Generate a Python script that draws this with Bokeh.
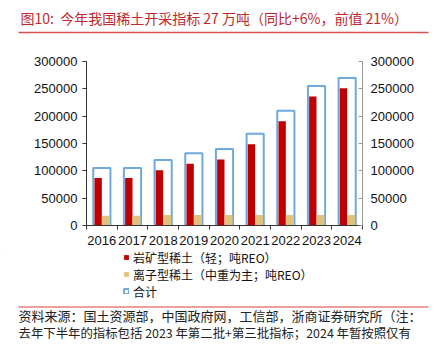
from bokeh.plotting import figure
from bokeh.models import (Range1d, LinearAxis, FixedTicker, Legend, LegendItem,
                          NumeralTickFormatter)
from bokeh.core.properties import value
from bokeh.embed import file_html
from bokeh.resources import INLINE

years = ["2016", "2017", "2018", "2019", "2020", "2021", "2022", "2023", "2024"]
rock = [87100, 87100, 100850, 112850, 120850, 148850, 190850, 235850, 250850]
ion = [17900, 17900, 19150, 19150, 19150, 19150, 19150, 19150, 19150]
total = [105000, 105000, 120000, 132000, 140000, 168000, 210000, 255000, 270000]
y_ticks = [0, 50000, 100000, 150000, 200000, 250000, 300000]
legend_labels = ["岩矿型稀土（轻；吨REO）", "离子型稀土（中重为主；吨REO）", "合计"]
title_text = "图10:\u00a0\u00a0今年我国稀土开采指标 27 万吨（同比+6%，前值 21%）"
footer_lines = ["资料来源：国土资源部，中国政府网，工信部，浙商证券研究所（注：",
                "去年下半年的指标包括 2023 年第二批+第三批指标；2024 年暂按照仅有"]

W, H = 441, 344
TOP_H = 40          # title strip height
MAIN_H = 208        # main chart canvas height
BOT_H = H - TOP_H - MAIN_H
FL, FR, FT, FB = 86, 362, 61, 225  # frame edges on the full page

RED = "#c00000"
YEL = "#dfc27d"
BLUE = "#6fa8dc"
CJK = "Noto Sans CJK SC"
font = "Liberation Sans"


def blank(h, y0):
    f = figure(width=W, height=h, output_backend="svg", toolbar_location=None,
               x_range=Range1d(0, W), y_range=Range1d(y0 + h, y0),
               min_border=0, x_axis_location=None, y_axis_location=None)
    f.outline_line_color = None
    f.xgrid.visible = False
    f.ygrid.visible = False
    return f


# ---- title strip
pt = blank(TOP_H, 0)
pt.text(x=[20], y=[17], text=[title_text], text_font=value(CJK), text_font_size="14px",
        text_color="#c0282e", text_baseline="middle", text_align="left")
pt.segment(x0=[18], y0=[32], x1=[428], y1=[32], line_color="#d65050", line_width=1.5)

# ---- main chart
p = figure(width=W, height=MAIN_H, output_backend="svg", toolbar_location=None,
           x_range=Range1d(-0.5, len(years) - 0.5), y_range=Range1d(0, 300000),
           min_border_left=FL, min_border_right=W - FR, min_border_top=FT - TOP_H,
           min_border_bottom=TOP_H + MAIN_H - FB, y_axis_location=None, x_axis_location=None)
p.outline_line_color = None
p.xgrid.visible = False
p.ygrid.visible = False

xs = list(range(len(years)))
x_rock = [x - 0.12 for x in xs]
x_ion = [x + 0.13 for x in xs]

p.vbar(x=xs, top=total, bottom=0, width=0.56, fill_color="white",
       line_color=BLUE, line_width=2)
p.vbar(x=x_rock, top=rock, width=0.24, fill_color=RED, line_color=None)
p.vbar(x=x_ion, top=ion, width=0.26, fill_color=YEL, line_color=None)

xa = LinearAxis(ticker=FixedTicker(ticks=xs, minor_ticks=[x - 0.5 for x in xs] + [len(xs) - 0.5]),
                major_label_overrides={i: y for i, y in enumerate(years)})
xa.major_tick_line_color = None
xa.minor_tick_out = 4
xa.minor_tick_in = 0
xa.minor_tick_line_color = "#333333"
xa.axis_line_color = "#333333"
xa.major_label_text_font = font
xa.major_label_text_font_size = "13px"
xa.major_label_text_color = "#111111"
xa.major_label_standoff = 4
p.add_layout(xa, "below")

for side in ("left", "right"):
    ya = LinearAxis(ticker=FixedTicker(ticks=y_ticks),
                    formatter=NumeralTickFormatter(format="0"))
    ya.minor_tick_line_color = None
    ya.major_label_text_font = font
    ya.major_label_text_font_size = "13px"
    ya.major_label_text_color = "#111111"
    if side == "left":
        ya.axis_line_color = "#333333"
        ya.major_tick_line_color = "#333333"
        ya.major_tick_out = 4
        ya.major_tick_in = 0
        ya.major_label_standoff = 5
    else:
        ya.axis_line_color = "#999999"
        ya.major_tick_line_color = "#999999"
        ya.major_tick_out = 0
        ya.major_tick_in = 4
        ya.major_label_standoff = 8
    p.add_layout(ya, side)

# ---- legend + footer strip
y0 = TOP_H + MAIN_H
pb = blank(BOT_H, y0)
g1 = pb.vbar(x=[-1000], top=[y0], bottom=[y0], width=1, fill_color=RED, line_color=None)
g2 = pb.vbar(x=[-1000], top=[y0], bottom=[y0], width=1, fill_color=YEL, line_color=None)
g3 = pb.vbar(x=[-1000], top=[y0], bottom=[y0], width=1, fill_color="white",
             line_color=BLUE, line_width=2)
row_centers = [256.5, 273.5, 290.5]
for lab, g, cy in zip(legend_labels, [g1, g2, g3], row_centers):
    lg = Legend(items=[LegendItem(label=lab, renderers=[g])],
                location=(123, H - cy - 9), orientation="vertical")
    lg.glyph_width = 6
    lg.glyph_height = 6
    lg.label_text_font = CJK
    lg.label_text_font_size = "12px"
    lg.label_text_color = "#111111"
    lg.label_height = 14
    lg.label_standoff = 4
    lg.spacing = 0
    lg.padding = 0
    lg.margin = 0
    lg.border_line_color = None
    lg.background_fill_alpha = 0
    pb.add_layout(lg, "center")

pb.segment(x0=[18], y0=[306.5], x1=[428], y1=[306.5], line_color="#e58080", line_width=1.5)
pb.text(x=[18], y=[315], text=[footer_lines[0]], text_font=value(CJK),
        text_font_size="13px", text_color="#222222", text_baseline="middle", text_align="left")
pb.text(x=[18], y=[332], text=[footer_lines[1]], text_font=value(CJK),
        text_font_size="12.4px", text_color="#222222", text_baseline="middle", text_align="left")

open("out.html", "w").write(file_html([pt, p, pb], INLINE))
